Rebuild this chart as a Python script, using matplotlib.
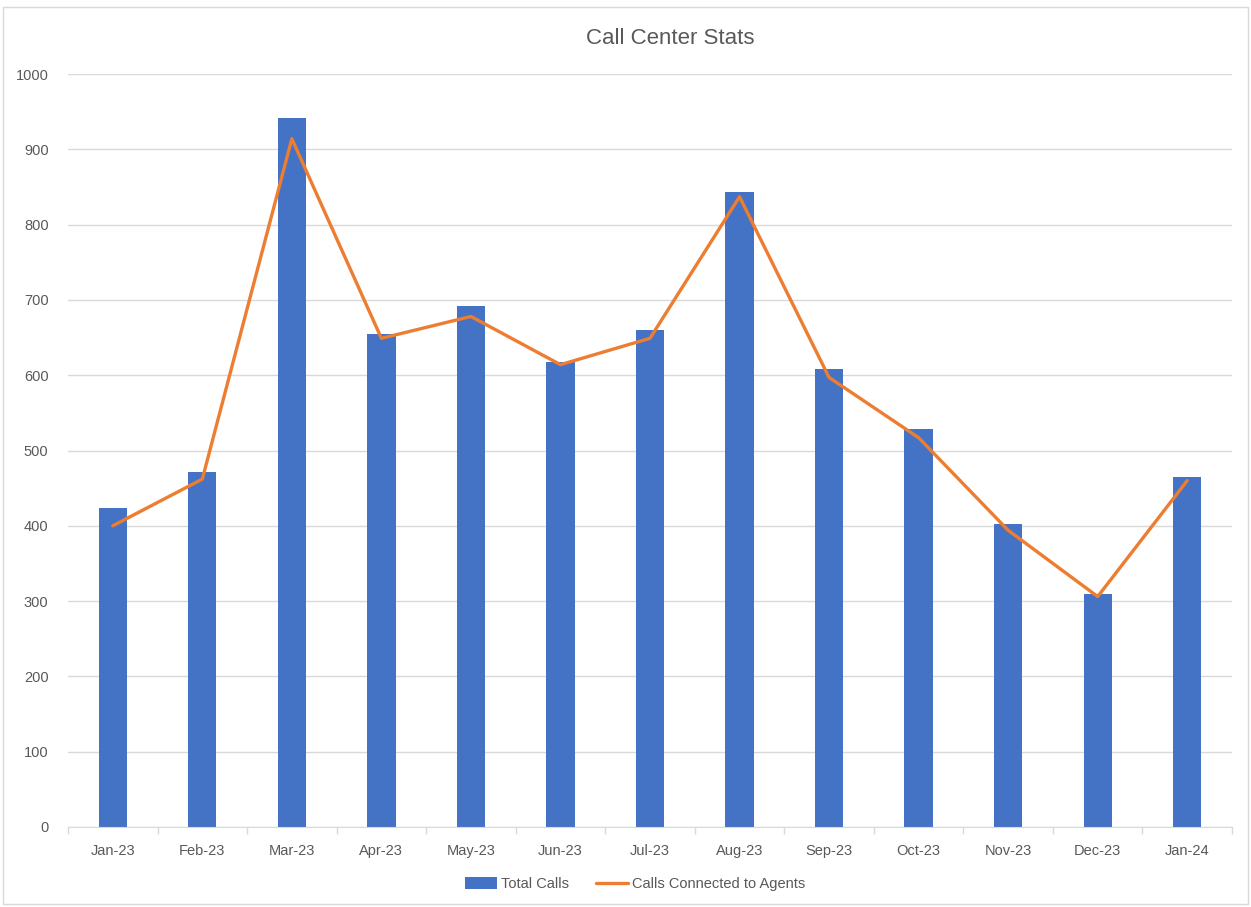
import matplotlib.pyplot as plt
from matplotlib.patches import Rectangle
import numpy as np

# data
months = ['Jan-23', 'Feb-23', 'Mar-23', 'Apr-23', 'May-23', 'Jun-23', 'Jul-23',
          'Aug-23', 'Sep-23', 'Oct-23', 'Nov-23', 'Dec-23', 'Jan-24']
total_calls = [423, 471, 941, 655, 692, 617, 660, 843, 608, 528, 403, 310, 465]
connected = [400, 462, 914, 649, 678, 614, 649, 837, 597, 517, 394, 306, 460]

plt.rcParams['font.family'] = ['Liberation Sans Narrow', 'Liberation Sans', 'DejaVu Sans']

fig = plt.figure(figsize=(12.51, 9.07), dpi=100)
ax = fig.add_axes([68/1251, 1-827/907, (1232-68)/1251, (827-74)/907])

x = np.arange(len(months))
bars = ax.bar(x, total_calls, width=0.316, color='#4472C4', label='Total Calls', zorder=2)
line, = ax.plot(x, connected, color='#ED7D31', lw=2.4, label='Calls Connected to Agents',
                zorder=3, solid_joinstyle='round', solid_capstyle='round')

ax.set_xlim(-0.5, len(months) - 0.5)
ax.set_ylim(0, 1000)
ax.set_yticks(range(0, 1001, 100))
ax.yaxis.grid(True, color='#D9D9D9', lw=1, zorder=0)
ax.set_xticks(x)
ax.set_xticklabels(months)
ax.set_xticks(np.arange(-0.5, len(months), 1), minor=True)
ax.tick_params(axis='x', which='major', length=0, pad=12, labelsize=10.5, labelcolor='#595959')
ax.tick_params(axis='x', which='minor', length=5, color='#D9D9D9', width=1)
ax.tick_params(axis='y', length=0, pad=14, labelsize=10.5, labelcolor='#595959')

for s in ['top', 'right', 'left']:
    ax.spines[s].set_visible(False)
ax.spines['bottom'].set_color('#D9D9D9')

fig.text(670/1251, 1-39/907, 'Call Center Stats', ha='center', va='center',
         fontsize=16, color='#595959')

fig.legend([bars, line], ['Total Calls', 'Calls Connected to Agents'],
           loc='center', bbox_to_anchor=(635/1251, 1-884/907), ncol=2, frameon=False,
           fontsize=10.5, labelcolor='#595959', handlelength=2.2, handleheight=0.8,
           columnspacing=1.8, handletextpad=0.3)

fig.patches.append(Rectangle((3/1251, 3/907), 1-6/1251, 1-10/907, transform=fig.transFigure,
                             fill=False, edgecolor='#D9D9D9', lw=1))

fig.savefig('out.png', dpi=100)
